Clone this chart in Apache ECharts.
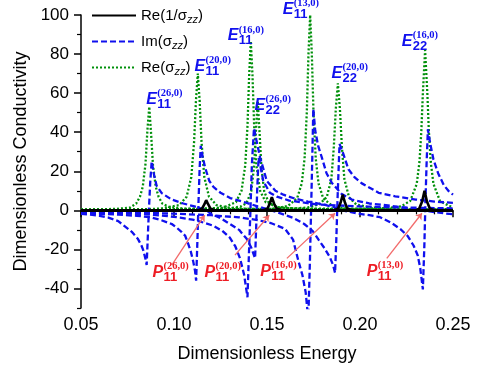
<!DOCTYPE html>
<html>
<head>
<meta charset="utf-8">
<title>Dimensionless Conductivity</title>
<script src="https://cdn.jsdelivr.net/npm/echarts@6.0.0/dist/echarts.min.js"></script>
<style>
  html, body { margin: 0; padding: 0; background: #fff; }
  #main { width: 491px; height: 368px; }
</style>
</head>
<body>
<div id="main"></div>
<script>
// axis ticks
const yTicks = [-40, -20, 0, 20, 40, 60, 80, 100];
const yMinorTicks = [-50, -30, -10, 10, 30, 50, 70, 90];

// [energy, conductivity], one set per tube
// (26,0)
const re26 = [[0.05,0.3],[0.06,0.5],[0.07,0.8],[0.0764,1.4],[0.0797,3.5],[0.0817,7],[0.0832,12],[0.0847,24],[0.0857,41],[0.0867,53],[0.0877,39],[0.0887,23],[0.0902,12],[0.0917,7],[0.0937,3.5],[0.097,1.8],[0.103,1],[0.112,0.7],[0.122,0.7],[0.13,1],[0.136,2],[0.139,3.7],[0.1415,9.7],[0.143,22],[0.144,40],[0.145,56],[0.146,40],[0.147,22],[0.1485,9.7],[0.151,3.7],[0.156,1.6],[0.165,0.9],[0.18,0.6],[0.21,0.4],[0.25,0.3]];
const im26 = [[0.05,-1.8],[0.055,-2.2],[0.06,-2.8],[0.0647,-3.7],[0.07,-5.5],[0.0773,-11],[0.0805,-14.5],[0.0825,-18],[0.0835,-20.5],[0.0847,-25],[0.0853,-28],[0.0859,-14],[0.0865,0],[0.0872,14],[0.088,25],[0.0893,18],[0.0907,12.5],[0.0934,8.8],[0.0988,5.5],[0.105,3.5],[0.111,2],[0.1176,0],[0.1194,-1.5],[0.125,-4],[0.1301,-7],[0.135,-10],[0.1391,-14.6],[0.1415,-19],[0.143,-23],[0.1436,-24.5],[0.1442,-8],[0.1447,10],[0.1455,27],[0.147,20],[0.148,15],[0.1515,9],[0.1553,7],[0.162,5],[0.1768,3],[0.2,2],[0.225,1.4],[0.25,1]];
const inv26 = [[0.05,0],[0.113,0],[0.115,0.8],[0.1163,3],[0.1173,5.2],[0.1184,3],[0.1197,0.8],[0.122,0],[0.25,0]];
// (20,0)
const re20 = [[0.05,0.3],[0.07,0.4],[0.085,0.6],[0.093,0.9],[0.1028,2.7],[0.1068,7],[0.1093,17],[0.1108,35],[0.1118,56],[0.1128,70],[0.1138,56],[0.1148,35],[0.1163,17],[0.1188,7],[0.1228,2.7],[0.13,1.2],[0.14,0.8],[0.155,0.7],[0.165,0.9],[0.172,1.5],[0.178,3],[0.1821,6.7],[0.1846,16],[0.1859,32],[0.187,52],[0.1881,65],[0.1892,52],[0.1903,32],[0.1916,16],[0.1941,6.7],[0.198,3],[0.205,1.5],[0.215,0.9],[0.23,0.6],[0.25,0.5]];
const im20 = [[0.05,-1.5],[0.06,-1.8],[0.07,-2.2],[0.08,-2.8],[0.0871,-3.5],[0.093,-5],[0.0988,-7],[0.1016,-9],[0.104,-11],[0.106,-13],[0.1076,-17],[0.109,-21],[0.1103,-26],[0.1113,-31],[0.1119,-36],[0.1126,-15],[0.1132,5],[0.1138,22],[0.1144,33],[0.1155,27],[0.1167,22],[0.119,15],[0.1212,12],[0.125,9],[0.1302,6.3],[0.1391,3.8],[0.145,2],[0.1522,0],[0.158,-1.8],[0.164,-3.8],[0.17,-7],[0.1745,-10.5],[0.1777,-15],[0.181,-19.5],[0.1838,-24],[0.1855,-28],[0.1866,-32],[0.1873,-14],[0.188,8],[0.189,34],[0.191,29],[0.1938,21],[0.197,17],[0.201,13.8],[0.21,9],[0.2189,7.2],[0.23,5.5],[0.24,4.5],[0.25,3.8]];
const inv20 = [[0.05,0],[0.148,0],[0.1502,0.8],[0.1515,3.5],[0.1526,6.8],[0.1538,3.5],[0.1552,0.8],[0.158,0],[0.25,0]];
// (16,0)
const re16 = [[0.05,0.3],[0.08,0.4],[0.1,0.6],[0.115,0.9],[0.1263,1.3],[0.1333,4.2],[0.1363,10],[0.1383,23],[0.1395,43],[0.1404,69],[0.1413,86.6],[0.1422,69],[0.1431,43],[0.1443,23],[0.1463,10],[0.1493,4.2],[0.1563,1.3],[0.17,0.8],[0.19,0.8],[0.205,0.9],[0.215,1.2],[0.222,2],[0.227,4.8],[0.2305,13.5],[0.232,25],[0.233,41],[0.2338,60],[0.235,82],[0.2362,60],[0.237,41],[0.238,25],[0.2395,13.5],[0.243,4.8],[0.248,2.2],[0.25,1.8]];
const im16 = [[0.05,-1],[0.07,-1.4],[0.085,-2],[0.095,-2.8],[0.1033,-3.7],[0.11,-4.8],[0.116,-6.3],[0.1212,-7.9],[0.126,-10.5],[0.13,-14],[0.133,-18.5],[0.1355,-24.6],[0.1377,-33],[0.1395,-44.5],[0.1403,-22],[0.1411,0],[0.1419,24],[0.143,42],[0.1443,36],[0.1463,27],[0.1499,15],[0.1545,10],[0.1588,8],[0.165,6],[0.172,4.5],[0.18,3],[0.1857,1.8],[0.1905,0],[0.198,-1.5],[0.205,-2.5],[0.2108,-3.5],[0.217,-6.5],[0.2216,-9.5],[0.2255,-13],[0.2288,-18],[0.231,-23],[0.2324,-29.6],[0.2338,-40.5],[0.2346,-18],[0.2352,5],[0.2358,24],[0.2365,41.5],[0.2378,34],[0.2395,26],[0.242,19],[0.245,13],[0.2475,10],[0.25,8]];
const inv16 = [[0.05,0],[0.186,0],[0.1882,0.8],[0.1896,4],[0.1907,8],[0.1919,4],[0.1932,0.8],[0.196,0],[0.25,0]];
// (13,0)
const re13 = [[0.05,0.3],[0.1,0.4],[0.13,0.6],[0.153,0.8],[0.1612,2.2],[0.1662,6.2],[0.1687,13.8],[0.1702,26.5],[0.1714,50],[0.1723,80],[0.1732,100],[0.1741,80],[0.175,50],[0.1762,26.5],[0.1777,13.8],[0.1802,6.2],[0.1852,2.2],[0.1932,0.8],[0.21,0.5],[0.23,0.5],[0.25,0.6]];
const im13 = [[0.05,-0.8],[0.08,-1.2],[0.1,-1.7],[0.12,-2.5],[0.135,-3.6],[0.145,-5],[0.152,-6.5],[0.1597,-9.5],[0.164,-15],[0.1669,-26],[0.169,-33],[0.1708,-42],[0.1722,-56],[0.1731,-25],[0.1737,0],[0.1743,25],[0.1749,52],[0.1759,41],[0.1775,33],[0.1795,27],[0.182,19],[0.1849,14],[0.19,8.5],[0.1956,5.5],[0.205,3.5],[0.215,2.5],[0.225,1.2],[0.2347,0],[0.24,-0.9],[0.245,-1.5],[0.25,-2]];
const inv13 = [[0.05,0],[0.23,0],[0.2318,0.8],[0.2334,4.5],[0.2347,10],[0.236,4.5],[0.2376,0.8],[0.24,0],[0.25,0]];

const names = ['Re(1/σzz)', 'Im(σzz)', 'Re(σzz)'];

// peak labels
const eSub = ['11', '11', '11', '22', '11', '22', '22'];
const eSup = ['(26,0)', '(20,0)', '(16,0)', '(26,0)', '(13,0)', '(20,0)', '(16,0)'];
const pSub = ['11', '11', '11', '11'];
const pSup = ['(26,0)', '(20,0)', '(16,0)', '(13,0)'];

// where the labels and arrows sit, in axis units
const eAt = [[0.0853,54],[0.1113,70.9],[0.1291,86.5],[0.1436,50.8],[0.1587,100],[0.185,67.4],[0.2227,83.6]];
const pAt = [[0.0887,-34.5],[0.1167,-34.5],[0.1467,-34],[0.2039,-34]];
const arrows = [
  [[0.0988,-28],[0.1165,-2.5]],
  [[0.1328,-22.9],[0.1512,-2.5]],
  [[0.1607,-24.6],[0.1866,-1.5]],
  [[0.2144,-24.6],[0.2333,-1.5]]
];

const font = 'Liberation Sans, Arial, sans-serif';
const blue = '#1010ee';
const green = '#00900a';
const red = '#ee1c24';

function curve(name, data, color, type, width, z) {
  return {
    name: name, type: 'line', data: data, showSymbol: false, symbol: 'none',
    lineStyle: { color: color, type: type, width: width },
    itemStyle: { color: color },
    z: z, silent: true
  };
}

function tags(at, letter, sub, sup, color) {
  const items = [];
  at.forEach(function (p, i) {
    items.push({ value: p, label: { formatter: '{l|' + letter + '}', offset: [0, 3] } });
    items.push({ value: p, label: { formatter: '{u|' + sup[i] + '}\n{d|' + sub[i] + '}', offset: [11, 6] } });
  });
  return {
    type: 'scatter', data: items, symbolSize: 1,
    itemStyle: { color: 'rgba(0,0,0,0)', opacity: 1 },
    clip: false, silent: true, z: 6,
    label: {
      show: true, position: [0, 0], align: 'left', verticalAlign: 'bottom', opacity: 1,
      rich: {
        l: { fontSize: 16, fontWeight: 'bold', fontStyle: 'italic', fontFamily: font, color: color, lineHeight: 16 },
        u: { fontSize: 10.5, fontWeight: 'bold', fontFamily: 'Liberation Serif, serif', color: color, lineHeight: 10 },
        d: { fontSize: 13, fontWeight: 'bold', fontFamily: font, color: color, lineHeight: 12 }
      }
    }
  };
}

const chart = echarts.init(document.getElementById('main'));
chart.setOption({
  animation: false,
  grid: { left: 81, right: 38, top: 15, bottom: 53 },
  legend: {
    data: names, orient: 'vertical', left: 86, top: 3,
    itemWidth: 44, itemHeight: 14, itemGap: 9,
    itemStyle: { opacity: 0 },
    formatter: function (n) { return n.replace('zz', '{s|zz}'); },
    textStyle: {
      fontSize: 15, fontFamily: font, color: '#000',
      rich: { s: { fontSize: 11, fontStyle: 'italic', fontFamily: font, padding: [8, 0, 0, 0] } }
    }
  },
  xAxis: {
    type: 'value', min: 0.05, max: 0.25, interval: 0.05,
    name: 'Dimensionless Energy', nameLocation: 'middle', nameGap: 37,
    nameTextStyle: { fontSize: 18, fontFamily: font, color: '#000' },
    axisLine: { lineStyle: { color: '#000', width: 1.5 } },
    axisTick: { length: 7, lineStyle: { color: '#000', width: 1.5 } },
    minorTick: { show: true, splitNumber: 5, length: 4, lineStyle: { color: '#000', width: 1.2 } },
    splitLine: { show: false },
    axisLabel: { fontSize: 18, fontFamily: font, color: '#000', margin: 8,
      formatter: function (v) { return v.toFixed(2); } }
  },
  yAxis: [{
    type: 'value', min: -50, max: 100,
    name: 'Dimensionless Conductivity', nameLocation: 'middle', nameGap: 40,
    nameTextStyle: { fontSize: 18, fontFamily: font, color: '#000' },
    axisLine: { show: true, lineStyle: { color: '#000', width: 1.5 } },
    axisTick: { show: true, customValues: yTicks, length: 7, lineStyle: { color: '#000', width: 1.5 } },
    axisLabel: { customValues: yTicks, fontSize: 17, fontFamily: font, color: '#000', margin: 12 },
    splitLine: { show: false }
  }, {
    type: 'value', min: -50, max: 100, position: 'left',
    axisLine: { show: false },
    axisTick: { show: true, customValues: yMinorTicks, length: 4, lineStyle: { color: '#000', width: 1.2 } },
    axisLabel: { show: false },
    splitLine: { show: false }
  }],
  series: [
    curve(names[2], re26, green, [2, 2], 2.3, 1),
    curve(names[2], re20, green, [2, 2], 2.3, 1),
    curve(names[2], re16, green, [2, 2], 2.3, 1),
    curve(names[2], re13, green, [2, 2], 2.3, 1),
    curve(names[1], im26, blue, [6, 3], 2.3, 2),
    curve(names[1], im20, blue, [6, 3], 2.3, 2),
    curve(names[1], im16, blue, [6, 3], 2.3, 2),
    curve(names[1], im13, blue, [6, 3], 2.3, 2),
    curve(names[0], inv26, '#000', 'solid', 2.6, 3),
    curve(names[0], inv20, '#000', 'solid', 2.6, 3),
    curve(names[0], inv16, '#000', 'solid', 2.6, 3),
    curve(names[0], inv13, '#000', 'solid', 2.6, 3),
    {
      type: 'lines', coordinateSystem: 'cartesian2d', silent: true, z: 4,
      data: arrows.map(function (a) { return { coords: a }; }),
      symbol: ['none', 'arrow'], symbolSize: 6,
      lineStyle: { color: '#f26b6b', width: 1.3, opacity: 1 }
    },
    tags(eAt, 'E', eSub, eSup, blue),
    tags(pAt, 'P', pSub, pSup, red)
  ]
});
window.onresize = chart.resize;
</script>
</body>
</html>
